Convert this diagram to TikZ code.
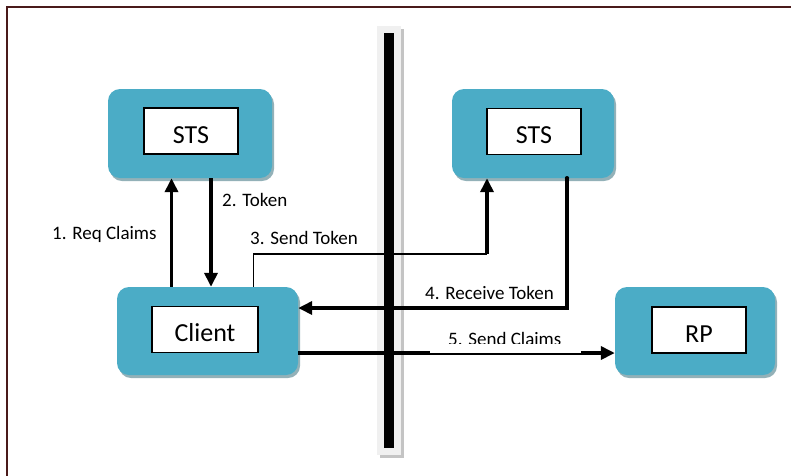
\documentclass[tikz,border=0pt]{standalone}
\usepackage{fontspec}
\setmainfont{Carlito}
\usetikzlibrary{shapes,arrows,calc,arrows.meta,shadows}
\definecolor{tileteal}{HTML}{4BACC6}
\definecolor{tileshade}{HTML}{93B1B8}
\definecolor{framered}{HTML}{4A1A1A}
\definecolor{barback}{HTML}{F0F0F0}
\definecolor{barshade}{HTML}{C4C4C4}
\begin{document}
\begin{tikzpicture}[x=1pt,y=-1pt,
    tile/.style={fill=tileteal,rounded corners=12pt,minimum height=89pt,
      drop shadow={shadow xshift=2pt,shadow yshift=-3pt,fill=tileshade,opacity=1}},
    tag/.style={draw,fill=white,line width=1.4pt,minimum width=94pt,minimum height=46pt,
      text height=24pt,text depth=0pt,inner sep=0pt,font=\fontsize{26}{30}\selectfont},
    flow/.style={line width=3.5pt,-{Triangle[length=14pt,width=13pt]}},
    note/.style={inner sep=0pt,anchor=base west,font=\fontsize{19}{23}\selectfont}]
            \useasboundingbox (0,0) rectangle (791,475);
            \draw[framered,line width=2pt] (7,476) -- (7,7) -- (792,7);
            \fill[barshade] (380,29) rectangle (404,458);
            \fill[barback] (377,26) rectangle (401,455);
            \fill[black] (384,33) rectangle (394,448);
            \draw (190,133.5) node[tile,minimum width=164pt] (sts1) {};
            \draw (533,133.5) node[tile,minimum width=162pt] (sts2) {};
            \draw (207.5,331) node[tile,minimum width=181pt,minimum height=88pt] (client) {};
            \draw (695,331) node[tile,minimum width=160pt,minimum height=88pt] (rp) {};
            \draw (191,131) node[tag] (sts1t) {STS};
            \draw (534,131.5) node[tag] (sts2t) {STS};
            \draw (205,329.5) node[tag,minimum width=106pt] (clientt) {Client};
            \draw (699,330) node[tag] (rpt) {RP};
            \coordinate (turn3) at (487,254);
            \draw[flow] ([xshift=-36pt]client.north) -- ([xshift=-36pt]client.north |- sts1.south);
            \draw[flow] ([xshift=21pt]sts1.south) -- ([xshift=21pt]sts1.south |- client.north);
            \draw[line width=1.3pt] ([xshift=46pt]client.north) |- (turn3);
            \draw[flow] (turn3) -- (turn3 |- sts2.south);
            \fill ([xshift=34pt]sts2.south) circle (2.2pt);
            \draw[flow] ([xshift=34pt]sts2.south) |- ([yshift=23pt]client.east);
            \draw[flow] ([yshift=-22pt]client.east) -- ([yshift=-22pt]rp.west);
            \draw (52,239) node[note] (req) {1. Req Claims};
            \draw (222,206) node[note] (tok) {2. Token};
            \draw (250,244) node[note] (send) {3. Send Token};
            \draw (425,299) node[note] (recv) {4. Receive Token};
            \draw (448,345) node[note] (claims) {5. Send Claims};
            \fill[white] (430,344) rectangle (581,353.2);
        \end{tikzpicture}
\end{document}
